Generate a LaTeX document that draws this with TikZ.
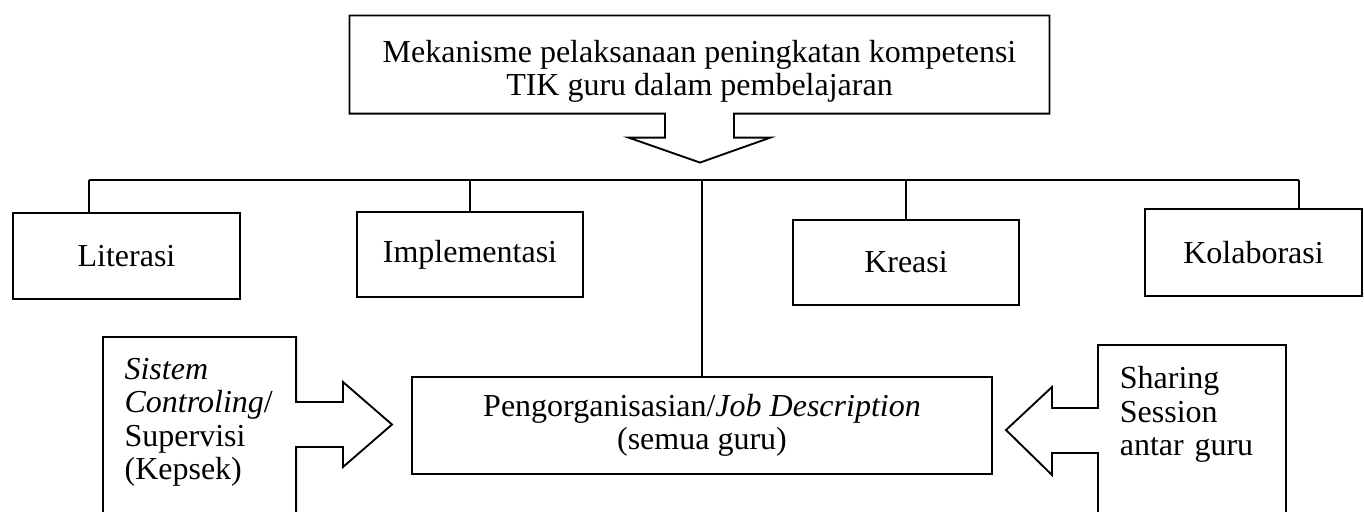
\documentclass[tikz,border=0pt]{standalone}
\usepackage{fontspec}
\setmainfont{Liberation Serif}
\usetikzlibrary{calc}

\begin{document}
\begin{tikzpicture}[x=0.375pt, y=-0.375pt,
  font=\fontsize{12}{12.5}\selectfont,
  box/.style={draw, line width=0.8pt, inner sep=0pt, align=center},
  callout/.style={draw, line width=0.7pt, line join=miter},
  link/.style={line width=0.4pt}]

\useasboundingbox (0,0) rectangle (1364,511);
\clip (0,0) rectangle (1364,511);

% Top callout with down arrow
\node[align=center, inner sep=0pt, minimum width=262.1pt, minimum height=36.4pt] (mekanisme) at (699.5,64.5)
  {\rule{0pt}{13.5pt}Mekanisme pelaksanaan peningkatan kompetensi\\TIK guru dalam pembelajaran};
\draw[callout] (mekanisme.south west) -- (mekanisme.north west) -- (mekanisme.north east)
  -- (mekanisme.south east) -- ($(mekanisme.south)+(34.5,0)$) -- ($(mekanisme.south)+(34.5,24)$)
  -- ($(mekanisme.south)+(71,24)$) -- ($(mekanisme.south)+(0.5,49)$) -- ($(mekanisme.south)+(-71,24)$)
  -- ($(mekanisme.south)+(-34.5,24)$) -- ($(mekanisme.south)+(-34.5,0)$) -- cycle;

% Four components
\node[box, minimum width=85.1pt, minimum height=32.25pt] (literasi) at (126.5,256) {Literasi};
\node[box, minimum width=84.75pt, minimum height=31.9pt] (implementasi) at (470,254.5) {Implementasi};
\node[box, minimum width=84.75pt, minimum height=31.9pt] (kreasi) at (906,262.5) {Kreasi};
\node[box, minimum width=81.4pt, minimum height=32.6pt] (kolaborasi) at (1253.5,252.5) {Kolaborasi};

% Organisation box
\node[box, minimum width=217.5pt, minimum height=36.4pt] (pengorganisasian) at (702,425.5)
  {Pengorganisasian/\textit{Job Description}\\(semua guru)};

% Bus line and ticks
\coordinate (busL) at (89,180);
\coordinate (busR) at (1299,180);
\draw[link] (busL) -- (busR);
\draw[link] (busL) -- (busL |- literasi.north);
\draw[link] (implementasi.north |- busL) -- (implementasi.north);
\draw[link] (kreasi.north |- busL) -- (kreasi.north);
\draw[link] (busR) -- (busR |- kolaborasi.north);
\draw[link] (pengorganisasian.north |- busL) -- (pengorganisasian.north);

% Left callout with right arrow
\node[anchor=north west, align=left, text width=56.2pt, inner xsep=7.9pt, inner ysep=7.85pt] (sistem) at (103,337)
  {\textit{Sistem}\\\textit{Controling}/\\Supervisi\\(Kepsek)};
\draw[callout] (sistem.north west |- 0,520) -- (sistem.north west) -- (sistem.north east)
  -- (sistem.north east |- 0,402) -- (343,402) -- (343,382) -- (392,424.5) -- (343,467)
  -- (343,447) -- (sistem.north east |- 0,447) -- (sistem.north east |- 0,520);

% Right callout with left arrow
\node[anchor=north west, align=left, text width=54.1pt, inner xsep=8pt, inner ysep=7.85pt] (sharing) at (1098,345)
  {Sharing\\Session\\antar guru};
\draw[callout] (sharing.north east |- 0,520) -- (sharing.north east) -- (sharing.north west)
  -- (sharing.north west |- 0,408) -- (1052,408) -- (1052,387) -- (1006,430) -- (1052,475)
  -- (1052,453) -- (sharing.north west |- 0,453) -- (sharing.north west |- 0,520);

\end{tikzpicture}
\end{document}
